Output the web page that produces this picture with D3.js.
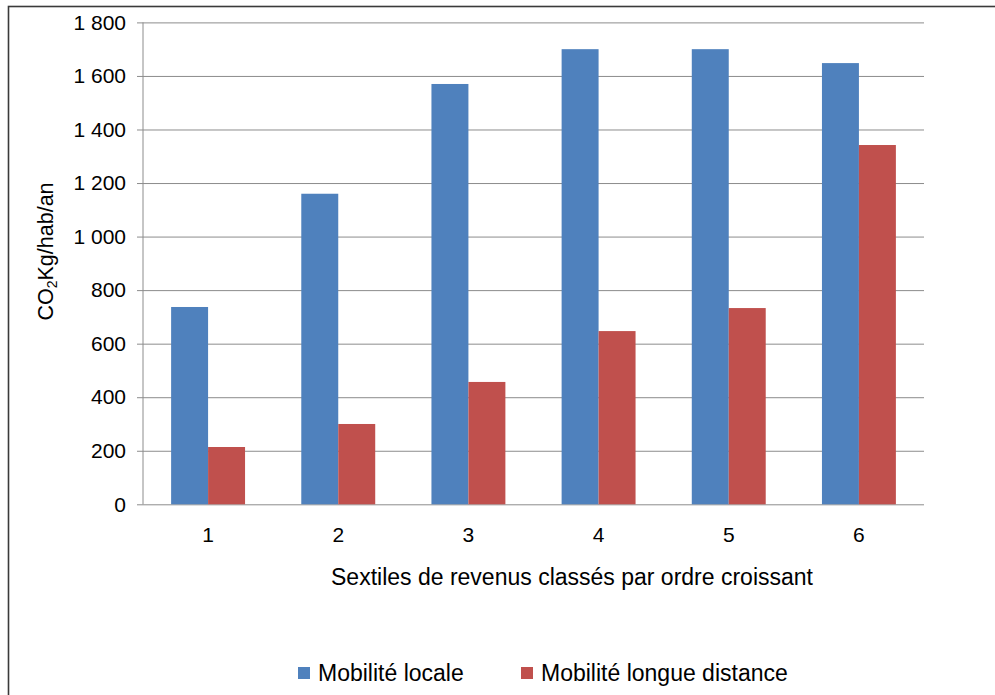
<!DOCTYPE html>
<html>
<head>
<meta charset="utf-8">
<script src="https://cdn.jsdelivr.net/npm/d3@7/dist/d3.min.js"></script>
<style>
  html, body { margin: 0; padding: 0; background: #fff; }
  svg { display: block; font-family: "Liberation Sans", Arial, sans-serif; }
</style>
</head>
<body>
<svg id="chart" width="995" height="695"></svg>
<script>
// Sextiles de revenus et émissions de CO2 liées à la mobilité (kg/hab/an)
const categories = ["1", "2", "3", "4", "5", "6"];
const seriesNames = ["Mobilité locale", "Mobilité longue distance"];
const mobiliteLocale = [737, 1160, 1570, 1700, 1700, 1648];
const mobiliteLongueDistance = [214, 300, 457, 647, 733, 1342];
const yTicks = [0, 200, 400, 600, 800, 1000, 1200, 1400, 1600, 1800];
const colors = ["#4F81BD", "#C0504D"];

const values = [mobiliteLocale, mobiliteLongueDistance];
const rows = categories.map((c, i) => ({ cat: c, vals: values.map(v => v[i]) }));

const svg = d3.select("#chart");
const m = { left: 143, right: 924, top: 22.4, bottom: 504.3 };
const FONT = "'Liberation Sans', Arial, sans-serif";

// chart frame (extends past the window on the right and bottom)
svg.append("rect")
  .attr("x", 8.5).attr("y", 6.5)
  .attr("width", 1200).attr("height", 900)
  .attr("fill", "none").attr("stroke", "#3a3a3a").attr("stroke-width", 1.6);

const x0 = d3.scaleBand().domain(categories)
  .range([m.left, m.right]).paddingInner(0.432).paddingOuter(0.216);
const x1 = d3.scaleBand().domain(d3.range(seriesNames.length))
  .range([0, x0.bandwidth()]);
const y = d3.scaleLinear().domain([0, 1800]).range([m.bottom, m.top]);

const fmt = v => d3.format(",")(v).replace(/,/g, " ");

// horizontal gridlines with y-axis labels and ticks
const yAxis = d3.axisLeft(y).tickValues(yTicks)
  .tickSize(-(m.right - m.left)).tickPadding(10).tickFormat(fmt);
const gy = svg.append("g").attr("transform", `translate(${m.left},0)`).call(yAxis);
gy.select(".domain").remove();
gy.selectAll(".tick line")
  .attr("x1", -6).attr("stroke", "#8c8c8c").attr("stroke-width", 1);
gy.selectAll(".tick text")
  .attr("x", -17).attr("fill", "#000")
  .style("font-size", "21px").style("font-family", FONT);

// vertical axis line
svg.append("line")
  .attr("x1", m.left).attr("x2", m.left)
  .attr("y1", m.top).attr("y2", m.bottom)
  .attr("stroke", "#8c8c8c").attr("stroke-width", 1);

// bars
const groups = svg.append("g").selectAll("g").data(rows).join("g")
  .attr("transform", d => `translate(${x0(d.cat)},0)`);
groups.selectAll("rect").data(d => d.vals.map((v, k) => ({ v, k }))).join("rect")
  .attr("x", d => x1(d.k))
  .attr("width", x1.bandwidth())
  .attr("y", d => y(d.v))
  .attr("height", d => y(0) - y(d.v))
  .attr("fill", d => colors[d.k]);

// x-axis category labels (no tick marks)
const xAxis = d3.axisBottom(x0).tickSize(0).tickPadding(23);
const gx = svg.append("g").attr("transform", `translate(0,${m.bottom})`).call(xAxis);
gx.select(".domain").remove();
gx.selectAll(".tick text").attr("fill", "#000")
  .style("font-size", "21px").style("font-family", FONT);

// x-axis title
svg.append("text")
  .attr("x", 572).attr("y", 585)
  .attr("text-anchor", "middle")
  .style("font-size", "23px").style("font-family", FONT)
  .text("Sextiles de revenus classés par ordre croissant");

// y-axis title with subscript
const yt = svg.append("text")
  .attr("transform", "translate(53,251.5) rotate(-90)")
  .attr("text-anchor", "middle")
  .style("font-size", "21.5px").style("font-family", FONT);
yt.append("tspan").text("CO");
yt.append("tspan").attr("dy", 4).style("font-size", "14px").text("2");
yt.append("tspan").attr("dy", -4).text("Kg/hab/an");

// legend
const legendX = [298, 521];
const lg = svg.append("g").selectAll("g").data(seriesNames).join("g")
  .attr("transform", (d, i) => `translate(${legendX[i]},667)`);
lg.append("rect").attr("width", 12).attr("height", 12).attr("fill", (d, i) => colors[i]);
lg.append("text").attr("x", 20).attr("y", 14)
  .style("font-size", "23px").style("font-family", FONT).text(d => d);
</script>
</body>
</html>
